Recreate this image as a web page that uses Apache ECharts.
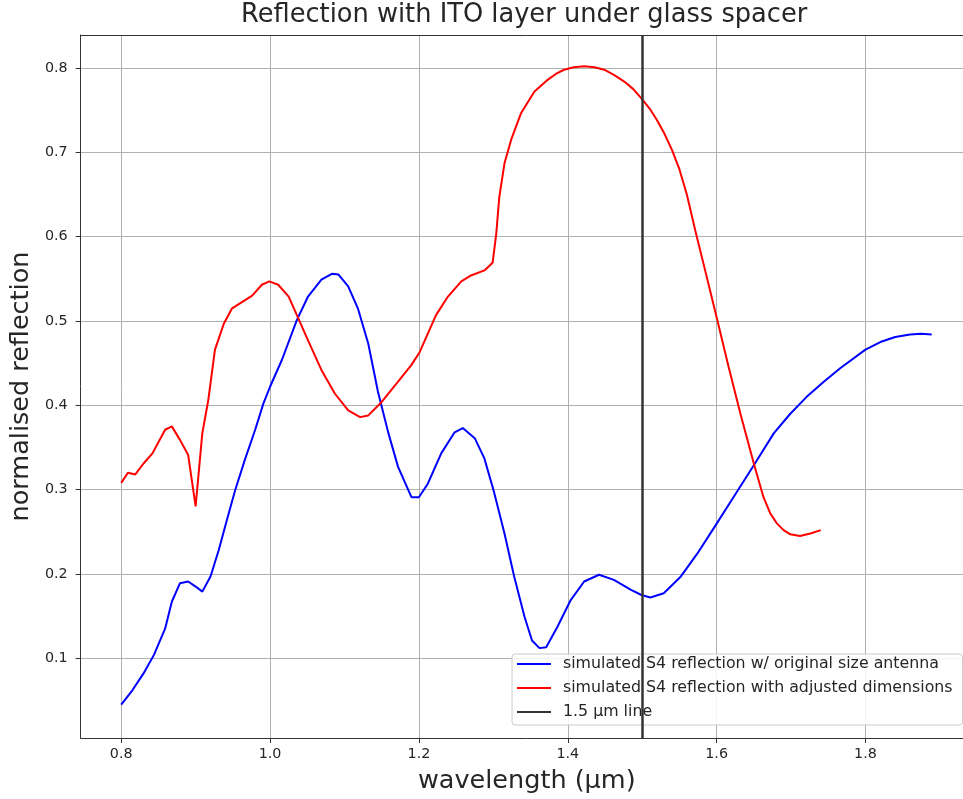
<!DOCTYPE html>
<html>
<head>
<meta charset="utf-8">
<script src="https://cdn.jsdelivr.net/npm/echarts@6/dist/echarts.min.js"></script>
<style>
html,body{margin:0;padding:0;background:#fff;overflow:hidden;}
#chart{width:980px;height:799px;}
</style>
</head>
<body>
<div id="chart"></div>
<script>
// ---- data ----
const blueX = [0.800,0.815,0.830,0.844,0.859,0.868,0.879,0.890,0.900,0.909,0.920,0.931,0.942,0.953,0.966,0.980,0.991,1.000,1.016,1.036,1.051,1.069,1.083,1.092,1.105,1.118,1.132,1.145,1.159,1.172,1.190,1.200,1.212,1.230,1.248,1.259,1.275,1.288,1.301,1.315,1.328,1.342,1.352,1.362,1.371,1.386,1.404,1.422,1.442,1.462,1.485,1.499,1.511,1.529,1.552,1.574,1.596,1.619,1.650,1.677,1.699,1.721,1.744,1.766,1.800,1.820,1.840,1.860,1.875,1.889];
const blueY = [0.045,0.062,0.082,0.104,0.135,0.167,0.189,0.191,0.185,0.179,0.197,0.228,0.264,0.299,0.335,0.371,0.402,0.422,0.454,0.501,0.529,0.549,0.556,0.555,0.541,0.515,0.473,0.416,0.367,0.327,0.291,0.291,0.307,0.343,0.368,0.373,0.361,0.337,0.297,0.248,0.197,0.149,0.121,0.112,0.113,0.137,0.169,0.191,0.199,0.193,0.181,0.175,0.172,0.177,0.197,0.224,0.254,0.286,0.329,0.367,0.390,0.410,0.428,0.444,0.466,0.475,0.481,0.484,0.485,0.484];

const redX = [0.800,0.809,0.819,0.830,0.842,0.859,0.868,0.879,0.890,0.900,0.909,0.917,0.926,0.938,0.949,0.967,0.976,0.989,0.999,1.011,1.025,1.038,1.051,1.069,1.087,1.105,1.121,1.132,1.150,1.172,1.190,1.201,1.212,1.223,1.239,1.257,1.270,1.288,1.299,1.304,1.308,1.315,1.324,1.337,1.355,1.373,1.384,1.395,1.408,1.422,1.436,1.449,1.462,1.476,1.488,1.499,1.510,1.520,1.530,1.540,1.550,1.560,1.572,1.586,1.601,1.616,1.632,1.650,1.663,1.672,1.681,1.690,1.699,1.712,1.726,1.740];
const redY = [0.308,0.320,0.318,0.331,0.343,0.371,0.375,0.359,0.341,0.280,0.367,0.406,0.466,0.497,0.515,0.525,0.530,0.543,0.547,0.543,0.529,0.503,0.477,0.442,0.414,0.394,0.386,0.388,0.404,0.428,0.448,0.463,0.485,0.507,0.529,0.547,0.554,0.560,0.569,0.604,0.647,0.687,0.715,0.746,0.772,0.786,0.793,0.798,0.801,0.802,0.801,0.798,0.792,0.784,0.775,0.764,0.752,0.738,0.722,0.703,0.680,0.650,0.605,0.555,0.501,0.446,0.390,0.331,0.291,0.272,0.260,0.252,0.247,0.245,0.248,0.252];

const markerX = 1.498;

const xTicks = [0.8,1.0,1.2,1.4,1.6,1.8];
const yTicks = [0.1,0.2,0.3,0.4,0.5,0.6,0.7,0.8];

const seriesNames = [
  'simulated S4 reflection w/ original size antenna',
  'simulated S4 reflection with adjusted dimensions',
  '1.5 µm line'
];
const titleText = 'Reflection with ITO layer under glass spacer';
const xName = 'wavelength (µm)';
const yName = 'normalised reflection';

// ---- chart ----
const FONT = 'DejaVu Sans';
const TXT = '#262626';
const SPINE = '#333333';
const chart = echarts.init(document.getElementById('chart'), null, {renderer:'canvas'});

const pairs = (xs, ys) => xs.map((x,i)=>[x, ys[i]]);
const XMIN = 0.7455, XMAX = 1.9445, YMIN = 0.0054, YMAX = 0.8392;

chart.setOption({
  animation: false,
  backgroundColor: '#ffffff',
  textStyle: {fontFamily: FONT},
  title: {
    text: titleText,
    left: 241, top: 2,
    padding: 0,
    textStyle: {fontFamily: FONT, fontSize: 25.7, fontWeight: 'normal', color: TXT}
  },
  grid: {
    left: 79, top: 35, right: 7, bottom: 61,
    show: false,
    containLabel: false
  },
  legend: {
    orient: 'vertical',
    left: 512, top: 654,
    padding: [2, 10, 5, 5],
    itemGap: 8,
    itemWidth: 34, itemHeight: 2,
    icon: 'rect',
    backgroundColor: 'rgba(255,255,255,0.85)',
    borderColor: '#cccccc', borderWidth: 1, borderRadius: 3,
    textStyle: {fontFamily: FONT, fontSize: 15.8, color: TXT, padding: [0,0,0,7]},
    data: seriesNames
  },
  xAxis: [{
    type: 'value',
    min: XMIN, max: XMAX,
    name: xName,
    nameLocation: 'middle',
    nameGap: 30,
    nameTextStyle: {fontFamily: FONT, fontSize: 25.5, color: TXT},
    axisLine: {show: true, onZero: false, lineStyle: {color: SPINE, width: 1}},
    axisTick: {show: true, inside: false, length: 5, lineStyle: {color: SPINE}, customValues: xTicks},
    axisLabel: {show: true, margin: 9, fontSize: 14.3, color: TXT, fontFamily: FONT,
      customValues: xTicks, formatter: v => Number(v).toFixed(1)},
    splitLine: {show: true, lineStyle: {color: '#b0b0b0', width: 1}}
  }, {
    type: 'value', position: 'top',
    min: XMIN, max: XMAX,
    axisLine: {show: true, onZero: false, lineStyle: {color: SPINE, width: 1}},
    axisTick: {show: false}, axisLabel: {show: false}, splitLine: {show: false}
  }],
  yAxis: {
    type: 'value',
    min: YMIN, max: YMAX,
    name: yName,
    nameLocation: 'middle',
    nameGap: 43,
    nameTextStyle: {fontFamily: FONT, fontSize: 25.5, color: TXT},
    axisLine: {show: true, onZero: false, lineStyle: {color: SPINE, width: 1}},
    axisTick: {show: true, inside: false, length: 5, lineStyle: {color: SPINE}, customValues: yTicks},
    axisLabel: {show: true, margin: 13, fontSize: 14.3, color: TXT, fontFamily: FONT,
      customValues: yTicks, formatter: v => Number(v).toFixed(1)},
    splitLine: {show: true, lineStyle: {color: '#b0b0b0', width: 1}}
  },
  series: [
    {
      name: seriesNames[0], type: 'line', data: pairs(blueX, blueY),
      showSymbol: false, smooth: false, color: '#0000ff',
      lineStyle: {width: 2, color: '#0000ff'}, z: 3
    },
    {
      name: seriesNames[1], type: 'line', data: pairs(redX, redY),
      showSymbol: false, smooth: false, color: '#ff0000',
      lineStyle: {width: 2, color: '#ff0000'}, z: 3
    },
    {
      name: seriesNames[2], type: 'line', data: [],
      color: SPINE,
      markLine: {
        silent: true, symbol: 'none',
        label: {show: false},
        lineStyle: {color: SPINE, width: 2.5, type: 'solid'},
        data: [{xAxis: markerX}]
      }, z: 4
    }
  ]
});
</script>
</body>
</html>
